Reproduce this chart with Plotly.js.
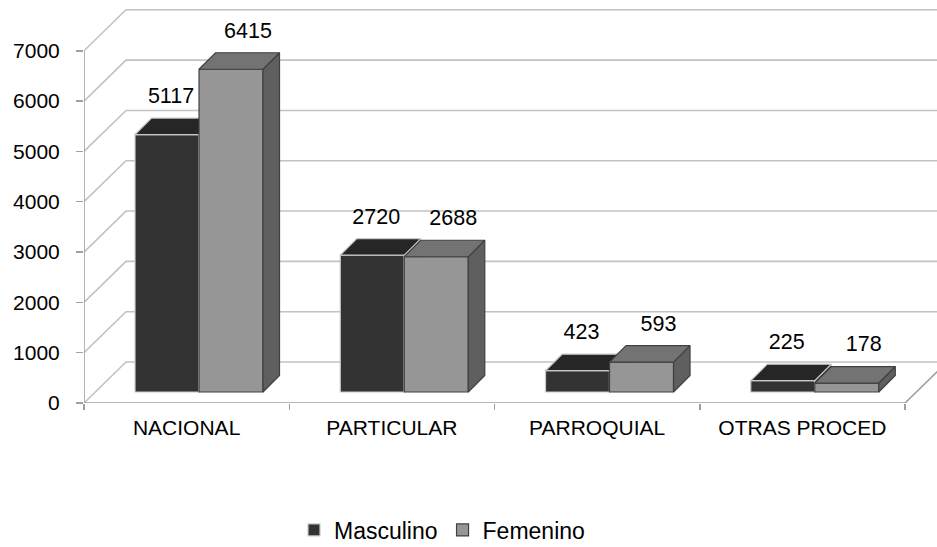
<!DOCTYPE html>
<html>
<head>
<meta charset="utf-8">
<script src="https://cdn.plot.ly/plotly-3.0.1.min.js"></script>
<style>html,body{margin:0;padding:0;background:#fff;}#chart{width:937px;height:547px;}</style>
</head>
<body>
<div id="chart"></div>
<script>
// ---- data ----
const categories = ["NACIONAL", "PARTICULAR", "PARROQUIAL", "OTRAS PROCED"];
const masculino = [5117, 2720, 423, 225];
const femenino = [6415, 2688, 593, 178];
const seriesNames = ["Masculino", "Femenino"];
const yTicks = [0, 1000, 2000, 3000, 4000, 5000, 6000, 7000];

// ---- pseudo-3D geometry (in axis units) ----
const pxPerCat = 205.25, pxPerUnit = 352.2 / 7000;
const wallDx = 42 / pxPerCat, wallDy = 41 / pxPerUnit;
const shiftX = 12.4 / pxPerCat, shiftY = 11 / pxPerUnit;
const depthX = 16.5 / pxPerCat, depthY = 16.5 / pxPerUnit;
const barW = 64 / pxPerCat;
const labelDy = 37 / pxPerUnit;
const xMin = -0.5, xMax = -0.5 + 853 / pxPerCat;
const nCat = categories.length;

const gridColor = "#c2c2c2", axisColor = "#a0a0a0";
const colM = {front: "#333333", top: "#262626", side: "#1e1e1e", line: "#c8c8c8"};
const colF = {front: "#969696", top: "#737373", side: "#5f5f5f", line: "#404040"};

const traces = [];
// back wall gridlines
yTicks.forEach(v => {
  traces.push({x: [xMin, xMin + wallDx, xMax + 1], y: [v, v + wallDy, v + wallDy],
    mode: "lines", line: {color: gridColor, width: 1.6}, hoverinfo: "skip",
    showlegend: false, zorder: 0, type: "scatter"});
});
// y axis line
traces.push({x: [xMin, xMin], y: [0, yTicks[yTicks.length - 1]], mode: "lines",
  line: {color: axisColor, width: 1.6}, hoverinfo: "skip", showlegend: false, zorder: 0, type: "scatter"});
// floor front line + right diagonal
traces.push({x: [xMin, nCat - 0.5, nCat - 0.5 + wallDx], y: [0, 0, wallDy], mode: "lines",
  line: {color: axisColor, width: 1.6}, hoverinfo: "skip", showlegend: false, zorder: 0, type: "scatter"});

function poly(xs, ys, fill, line, z) {
  traces.push({x: xs.concat([xs[0]]), y: ys.concat([ys[0]]), mode: "lines", fill: "toself",
    fillcolor: fill, line: {color: line, width: 1.2}, hoverinfo: "skip", showlegend: false,
    zorder: z, type: "scatter"});
}

// front faces as bars
traces.push({type: "bar", name: seriesNames[0], x: categories.map((c, i) => i), y: masculino,
  base: shiftY, width: barW, offset: shiftX - barW,
  marker: {color: colM.front, line: {color: colM.line, width: 1.2}}, zorder: 1, hoverinfo: "skip"});
traces.push({type: "bar", name: seriesNames[1], x: categories.map((c, i) => i), y: femenino,
  base: shiftY, width: barW, offset: shiftX,
  marker: {color: colF.front, line: {color: colF.line, width: 1.2}}, zorder: 2, hoverinfo: "skip"});

// tops and sides
function faces(vals, off, col, z) {
  vals.forEach((v, i) => {
    const xl = i + off, xr = xl + barW, yb = shiftY, yt = v + shiftY;
    poly([xr, xr, xr + depthX, xr + depthX], [yb, yt, yt + depthY, yb + depthY], col.side, col.line, z);
    poly([xl, xr, xr + depthX, xl + depthX], [yt, yt, yt + depthY, yt + depthY], col.top, col.line, z);
  });
}
faces(masculino, shiftX - barW, colM, 1);
faces(femenino, shiftX, colF, 2);

// value labels
const lblFont = {family: "Liberation Sans, Arial, sans-serif", size: 21.5, color: "#000"};
traces.push({type: "scatter", mode: "text", x: masculino.map((v, i) => i + shiftX - barW / 2 + 4 / pxPerCat),
  y: masculino.map(v => v + shiftY + labelDy), text: masculino.map(String), textposition: "middle center",
  textfont: lblFont, hoverinfo: "skip", showlegend: false, zorder: 3, cliponaxis: false});
traces.push({type: "scatter", mode: "text", x: femenino.map((v, i) => i + shiftX + barW / 2 + 17 / pxPerCat),
  y: femenino.map(v => v + shiftY + labelDy), text: femenino.map(String), textposition: "middle center",
  textfont: lblFont, hoverinfo: "skip", showlegend: false, zorder: 3, cliponaxis: false});

const layout = {
  width: 937, height: 547,
  margin: {l: 84, r: 0, t: 2, b: 144, autoexpand: false},
  paper_bgcolor: "#fff", plot_bgcolor: "#fff",
  barmode: "overlay",
  font: {family: "Liberation Sans, Arial, sans-serif", size: 21, color: "#000"},
  showlegend: true,
  legend: {orientation: "h", x: (294 - 84) / 853, xanchor: "left", y: -0.3167, yanchor: "middle",
    font: {size: 23, color: "#000"}, traceorder: "normal", itemclick: false},
  xaxis: {range: [xMin, xMax], tickmode: "array", tickvals: categories.map((c, i) => i), ticktext: categories,
    ticks: "", showgrid: false, zeroline: false, showline: false, ticklabelstandoff: 10, automargin: false,
    minor: {tick0: -0.5, dtick: 1, ticks: "outside", ticklen: 6, tickwidth: 1.5, tickcolor: axisColor, showgrid: false},
    tickfont: {size: 21}, fixedrange: true},
  yaxis: {range: [0, 401 / pxPerUnit], tickmode: "array", tickvals: yTicks, ticktext: yTicks.map(String),
    ticks: "outside", ticklen: 7, tickwidth: 1.5, tickcolor: axisColor, showgrid: false, zeroline: false, automargin: false,
    showline: false, ticklabelstandoff: 12, tickfont: {size: 21}, fixedrange: true}
};

Plotly.newPlot("chart", traces, layout, {displayModeBar: false, staticPlot: true});
</script>
</body>
</html>
